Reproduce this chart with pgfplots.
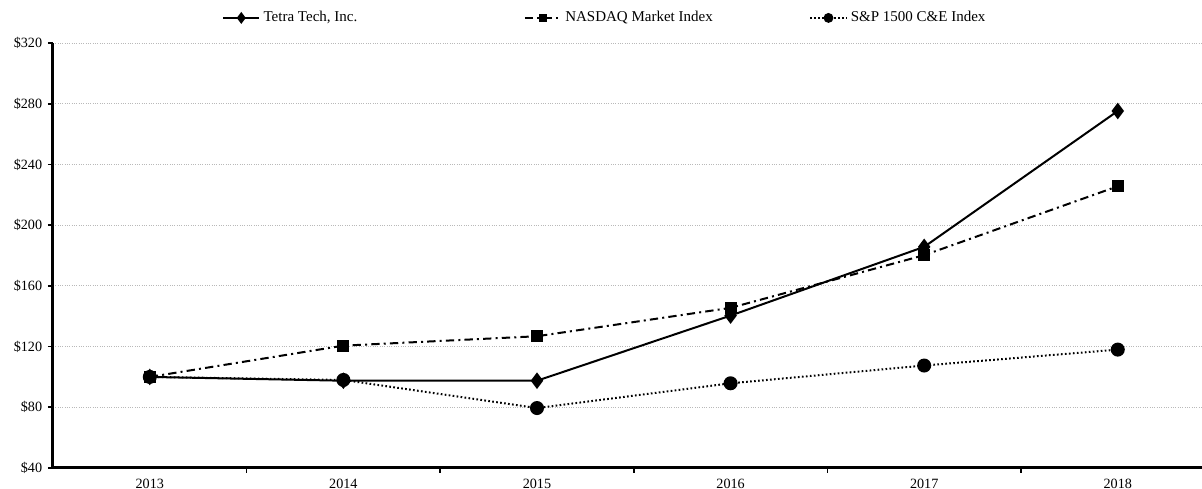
\documentclass[border=0pt]{standalone}
\usepackage{fontspec}
\setmainfont{Liberation Serif}
\usepackage{pgfplots}
\pgfplotsset{compat=1.18}

\begin{document}
\begin{tikzpicture}
\useasboundingbox (-31.8pt,-12.6pt) rectangle (689.4pt,280.8pt);
\begin{axis}[
  at={(0,0)}, anchor=south west,
  scale only axis, width=689.4pt, height=255pt,
  xmin=-0.5, xmax=5.435,
  ymin=40, ymax=320,
  axis x line=bottom, axis y line=left,
  axis line style={-, line width=1.8pt},
  xtick={0,...,5},
  xticklabels={2013,2014,2015,2016,2017,2018},
  major x tick style={draw=none},
  minor xtick={0.5,1.5,2.5,3.5,4.5},
  minor tick length=3pt,
  minor x tick style={line width=1pt, black},
  ytick={40,80,...,320},
  major tick length=3pt,
  y tick style={line width=1pt, black},
  tick align=outside,
  /pgf/number format/assume math mode=true,
  yticklabel={\$\pgfmathprintnumber{\tick}},
  ymajorgrids,
  grid style={densely dotted, gray!55, line width=0.5pt},
  tick label style={font=\fontsize{8.5}{10}\selectfont},
  clip=false,
  legend columns=3,
  legend style={at={(axis description cs:0.147,1.059)}, anchor=west,
    draw=none, fill=none, inner sep=0pt,
    font=\fontsize{9}{11}\selectfont,
    /tikz/column 2/.style={column sep=98pt},
    /tikz/column 4/.style={column sep=56pt}},
  legend image code/.code={\draw[mark repeat=2,mark phase=2]
    plot coordinates {(0cm,0cm)(0.38cm,0cm)(0.76cm,0cm)};},
  legend image post style={every mark/.append style={scale=0.65}},
]
\addplot[black, line width=1.2pt, mark=diamond*, mark size=4pt,
  mark options={solid}] coordinates {
  (0,100) (1,97.5) (2,97.5) (3,140.4) (4,185.7) (5,275.2)};
\addlegendentry{Tetra Tech, Inc.}
\addplot[black, line width=1.2pt, dash pattern=on 5pt off 2.5pt on 1.2pt off 2.5pt,
  mark=square*, mark size=3pt, mark options={solid}] coordinates {
  (0,100) (1,120.6) (2,126.8) (3,145.5) (4,180.2) (5,225.6)};
\addlegendentry{NASDAQ Market Index}
\addplot[black, line width=1.2pt, dash pattern=on 1pt off 1.4pt,
  mark=*, mark size=3.6pt, mark options={solid}] coordinates {
  (0,100) (1,98) (2,79.5) (3,95.8) (4,107.5) (5,118)};
\addlegendentry{S\&P 1500 C\&E Index}
\end{axis}
\end{tikzpicture}
\end{document}
